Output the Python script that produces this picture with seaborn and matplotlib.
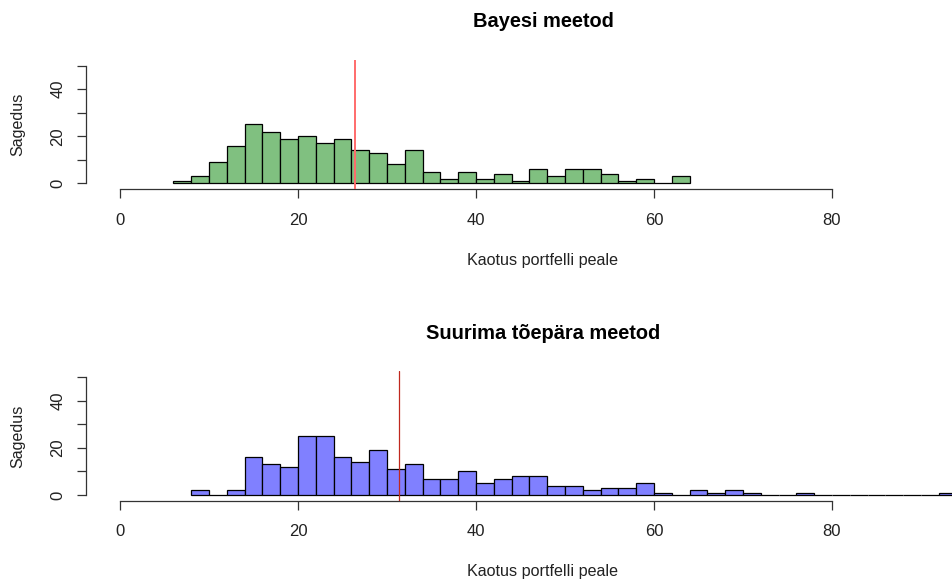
import matplotlib
matplotlib.use("Agg")
import matplotlib.pyplot as plt
import numpy as np
import pandas as pd
import seaborn as sns

# Loss histograms (bin width 2) for the two estimation methods
bin_width = 2

bayes_title = "Bayesi meetod"
bayes_start = 6
bayes_counts = [1, 3, 9, 16, 25, 22, 19, 20, 17, 19,
                14, 13, 8, 14, 5, 2, 5, 2, 4, 1,
                6, 3, 6, 6, 4, 1, 2, 0, 3]
bayes_marker = 26.4

ml_title = "Suurima tõepära meetod"
ml_start = 8
ml_counts = [2, 0, 2, 16, 13, 12, 25, 25, 16, 14,
             19, 11, 13, 7, 7, 10, 5, 7, 8, 8,
             4, 4, 2, 3, 3, 5, 1, 0, 2, 1,
             2, 1, 0, 0, 1, 0, 0, 0, 0, 0,
             0, 0, 1]
ml_marker = 31.4

x_label = "Kaotus portfelli peale"
y_label = "Sagedus"
x_ticks = [0, 20, 40, 60, 80]
y_ticks = [0, 10, 20, 30, 40, 50]
y_tick_labels = ["0", "", "20", "", "40", ""]

sns.set_theme(style="white")
plt.rcParams["font.family"] = ["Liberation Sans", "DejaVu Sans"]

W, H = 953, 583
fig = plt.figure(figsize=(W / 100, H / 100), dpi=100)
fig.patch.set_facecolor("white")

LINE = "#333333"
TEXT = "#222222"


def px_axes(left, top, right, bottom):
    return fig.add_axes([left / W, 1 - bottom / H, (right - left) / W, (bottom - top) / H])


def draw_panel(ax, start, counts, color, marker, marker_color, marker_lw,
               title, title_base, xlabel_base, ylim, xpad):
    edges = [start + bin_width * i for i in range(len(counts) + 1)]
    df = pd.DataFrame({
        "loss": [e + bin_width / 2 for e in edges[:-1]],
        "count": counts,
    })
    sns.histplot(data=df, x="loss", weights="count", bins=edges, ax=ax,
                 color=color, alpha=1, edgecolor="black", linewidth=0.9)
    ax.axvline(marker, color=marker_color, lw=marker_lw, zorder=5)

    ax.set_xlim(-3.82, 93.6)
    ax.set_ylim(*ylim)
    ax.set_facecolor("none")
    for s in ("top", "right"):
        ax.spines[s].set_visible(False)
    ax.spines["left"].set_bounds(0, 50)
    ax.spines["bottom"].set_bounds(0, 80)
    for s in ("left", "bottom"):
        ax.spines[s].set_color(LINE)
        ax.spines[s].set_linewidth(0.9)

    ax.set_xticks(x_ticks)
    ax.set_xticklabels([str(t) for t in x_ticks])
    ax.set_yticks(y_ticks)
    ax.set_yticklabels(y_tick_labels)
    ax.tick_params(axis="both", direction="out", length=6.7, width=0.9,
                   color=LINE, labelcolor=TEXT, labelsize=12)
    ax.tick_params(axis="x", pad=xpad, bottom=True)
    ax.tick_params(axis="y", pad=8.0, left=True, labelrotation=90)
    for lab in ax.get_yticklabels():
        lab.set_va("center")
    ax.set_xlabel("")
    ax.set_ylabel("")

    top_px = (1 - ax.get_position().y1) * H
    bot_px = (1 - ax.get_position().y0) * H
    fig.text(543 / W, 1 - title_base / H, title, ha="center", va="baseline",
             fontsize=14.4, fontweight="bold", color="black")
    fig.text(543 / W, 1 - xlabel_base / H, x_label, ha="center", va="baseline",
             fontsize=11.6, color=TEXT)
    fig.text(18 / W, 1 - (top_px + bot_px) / 2 / H, y_label, ha="center", va="center",
             rotation=90, fontsize=11.6, color=TEXT)


ax_top = px_axes(86, 60, 953, 189.3)
draw_panel(ax_top, bayes_start, bayes_counts, "#80C080", bayes_marker, "#FF6B6B", 1.4,
           bayes_title, 27, 265, (-2.55, 52.4), 10.4)

ax_bot = px_axes(86, 371, 953, 500.7)
draw_panel(ax_bot, ml_start, ml_counts, "#8080FF", ml_marker, "#C0281E", 0.9,
           ml_title, 339, 576, (-2.42, 52.68), 10.4)

fig.savefig("out.png", dpi=100)
